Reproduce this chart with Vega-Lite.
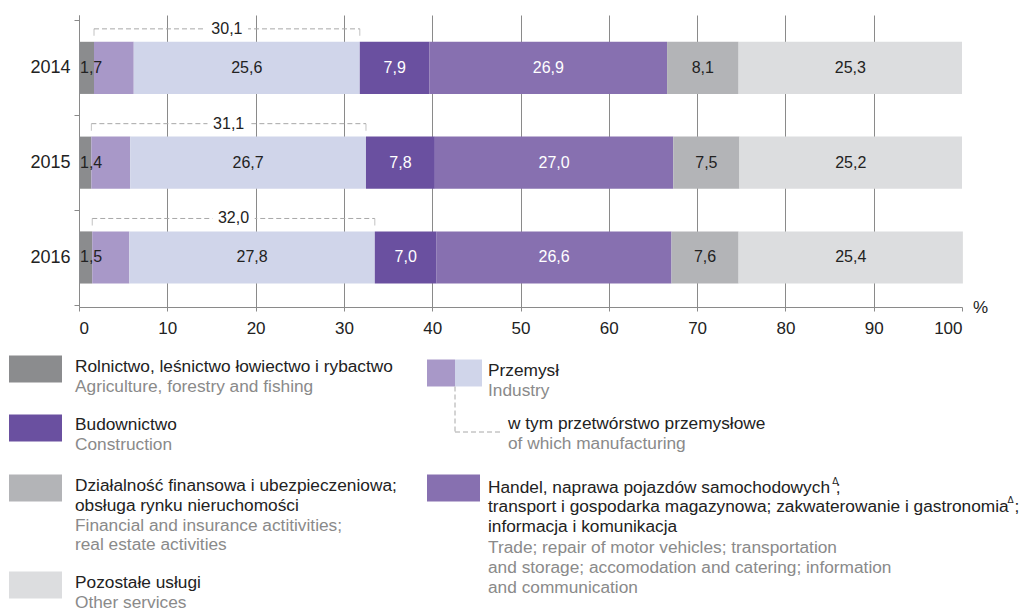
{
  "$schema": "https://vega.github.io/schema/vega-lite/v6.json",
  "padding": {"left": 9, "top": 6, "right": 0, "bottom": 0},
  "background": "white",
  "bounds": "flush",
  "spacing": 50,
  "config": {"view": {"stroke": null}, "font": "Liberation Sans"},
  "datasets": {
    "shares": [
      {"year": "2014", "sector": "agri", "order": 1, "value": 1.7},
      {"year": "2014", "sector": "ind", "order": 2, "value": 4.5},
      {"year": "2014", "sector": "manu", "order": 3, "value": 25.6},
      {"year": "2014", "sector": "constr", "order": 4, "value": 7.9},
      {"year": "2014", "sector": "trade", "order": 5, "value": 26.9},
      {"year": "2014", "sector": "fin", "order": 6, "value": 8.1},
      {"year": "2014", "sector": "other", "order": 7, "value": 25.3},
      {"year": "2015", "sector": "agri", "order": 1, "value": 1.4},
      {"year": "2015", "sector": "ind", "order": 2, "value": 4.4},
      {"year": "2015", "sector": "manu", "order": 3, "value": 26.7},
      {"year": "2015", "sector": "constr", "order": 4, "value": 7.8},
      {"year": "2015", "sector": "trade", "order": 5, "value": 27.0},
      {"year": "2015", "sector": "fin", "order": 6, "value": 7.5},
      {"year": "2015", "sector": "other", "order": 7, "value": 25.2},
      {"year": "2016", "sector": "agri", "order": 1, "value": 1.5},
      {"year": "2016", "sector": "ind", "order": 2, "value": 4.2},
      {"year": "2016", "sector": "manu", "order": 3, "value": 27.8},
      {"year": "2016", "sector": "constr", "order": 4, "value": 7.0},
      {"year": "2016", "sector": "trade", "order": 5, "value": 26.6},
      {"year": "2016", "sector": "fin", "order": 6, "value": 7.6},
      {"year": "2016", "sector": "other", "order": 7, "value": 25.4}
    ],
    "legend": [
      {"kind": "swatch", "part": "full", "col": 0, "line": 0.5, "sector": "agri"},
      {"kind": "swatch", "part": "full", "col": 0, "line": 3.45, "sector": "constr"},
      {"kind": "swatch", "part": "full", "col": 0, "line": 6.45, "sector": "fin"},
      {"kind": "swatch", "part": "full", "col": 0, "line": 11.3, "sector": "other"},
      {"kind": "swatch", "part": "left", "col": 1, "line": 0.7, "sector": "ind"},
      {"kind": "swatch", "part": "right", "col": 1, "line": 0.7, "sector": "manu"},
      {"kind": "swatch", "part": "full", "col": 1, "line": 6.45, "sector": "trade"},
      {"kind": "pl", "group": "main", "col": 0, "line": 0.5, "text": "Rolnictwo, leśnictwo łowiectwo i rybactwo"},
      {"kind": "en", "group": "main", "col": 0, "line": 1.5, "text": "Agriculture, forestry and fishing"},
      {"kind": "pl", "group": "main", "col": 0, "line": 3.4, "text": "Budownictwo"},
      {"kind": "en", "group": "main", "col": 0, "line": 4.4, "text": "Construction"},
      {"kind": "pl", "group": "main", "col": 0, "line": 6.45, "text": "Działalność finansowa i ubezpieczeniowa;"},
      {"kind": "pl", "group": "main", "col": 0, "line": 7.45, "text": "obsługa rynku nieruchomości"},
      {"kind": "en", "group": "main", "col": 0, "line": 8.45, "text": "Financial and insurance actitivities;"},
      {"kind": "en", "group": "main", "col": 0, "line": 9.4, "text": "real estate activities"},
      {"kind": "pl", "group": "main", "col": 0, "line": 11.3, "text": "Pozostałe usługi"},
      {"kind": "en", "group": "main", "col": 0, "line": 12.3, "text": "Other services"},
      {"kind": "pl", "group": "main", "col": 1, "line": 0.7, "text": "Przemysł"},
      {"kind": "en", "group": "main", "col": 1, "line": 1.7, "text": "Industry"},
      {"kind": "pl", "group": "sub", "col": 1, "line": 3.35, "text": "w tym przetwórstwo przemysłowe"},
      {"kind": "en", "group": "sub", "col": 1, "line": 4.35, "text": "of which manufacturing"},
      {"kind": "pl", "group": "main", "col": 1, "line": 6.55, "text": "Handel, naprawa pojazdów samochodowych\u2004;"},
      {"kind": "pl", "group": "main", "col": 1, "line": 7.5, "text": "transport i gospodarka magazynowa; zakwaterowanie i gastronomia\u2004;"},
      {"kind": "pl", "group": "main", "col": 1, "line": 8.5, "text": "informacja i komunikacja"},
      {"kind": "en", "group": "main", "col": 1, "line": 9.55, "text": "Trade; repair of motor vehicles; transportation"},
      {"kind": "en", "group": "main", "col": 1, "line": 10.55, "text": "and storage; accomodation and catering; information"},
      {"kind": "en", "group": "main", "col": 1, "line": 11.55, "text": "and communication"},
      {"kind": "sup", "group": "sup", "col": 1.977, "line": 6.2, "text": "Δ"},
      {"kind": "sup", "group": "sup", "col": 2.396, "line": 7.15, "text": "Δ"}
    ]
  },
  "vconcat": [
    {
      "width": 883,
      "height": 292,
      "data": {"name": "shares"},
      "encoding": {
        "y": {
          "field": "year", "type": "nominal",
          "scale": {"domain": ["2014", "2015", "2016"], "paddingInner": 0, "paddingOuter": 0.04, "align": 0.72},
          "axis": {
            "title": null, "domainColor": "#8a8a8a", "tickColor": "#8a8a8a", "tickSize": 5,
            "tickBand": "extent", "labelFontSize": 18, "labelColor": "#222222", "labelPadding": 4,
            "grid": false, "labelFont": "Liberation Sans"
          }
        }
      },
      "layer": [
        {
          "transform": [
            {"stack": "value", "groupby": ["year"], "sort": [{"field": "order", "order": "ascending"}], "as": ["x0", "x1"]}
          ],
          "mark": {"type": "bar", "height": {"band": 0.55}},
          "encoding": {
            "x": {
              "field": "x0", "type": "quantitative", "title": "%",
              "scale": {"domain": [0, 100], "nice": false},
              "axis": {
                "values": [0, 10, 20, 30, 40, 50, 60, 70, 80, 90, 100],
                "grid": true, "gridColor": "#8a8a8a", "gridWidth": 1,
                "gridOpacity": {"condition": {"test": "datum.value === 100", "value": 0}, "value": 1},
                "domainColor": "#8a8a8a", "tickColor": "#8a8a8a", "tickSize": 4,
                "labelFontSize": 17, "labelColor": "#222222", "labelPadding": 9,
                "title": "%", "titleX": 901, "titleY": 0, "titleFontSize": 17,
                "titleFontWeight": "normal", "titleColor": "#222222", "titleAlign": "center",
                "titleBaseline": "middle", "titleAngle": 0
              }
            },
            "x2": {"field": "x1"},
            "color": {
              "field": "sector", "type": "nominal", "legend": null,
              "scale": {
                "domain": ["agri", "ind", "manu", "constr", "trade", "fin", "other"],
                "range": ["#8b8c8e", "#a898c8", "#d0d5ea", "#6a50a0", "#8770b0", "#b3b4b7", "#dcdddf"]
              }
            }
          }
        },
        {
          "transform": [
            {"stack": "value", "groupby": ["year"], "sort": [{"field": "order", "order": "ascending"}], "as": ["x0", "x1"]},
            {"filter": "datum.sector !== 'agri' && datum.sector !== 'ind'"},
            {"calculate": "(datum.x0 + datum.x1) / 2", "as": "mid"},
            {"calculate": "replace(format(datum.value, '.1f'), '.', ',')", "as": "lab"}
          ],
          "mark": {"type": "text", "fontSize": 16, "baseline": "middle", "align": "center"},
          "encoding": {
            "x": {"field": "mid", "type": "quantitative", "title": "%"},
            "text": {"field": "lab"},
            "color": {"condition": {"test": "datum.sector === 'constr' || datum.sector === 'trade'", "value": "#ffffff"}, "value": "#222222"}
          }
        },
        {
          "transform": [
            {"filter": "datum.sector === 'agri'"},
            {"calculate": "replace(format(datum.value, '.1f'), '.', ',')", "as": "lab"}
          ],
          "mark": {"type": "text", "fontSize": 16, "baseline": "middle", "align": "left", "dx": 1, "color": "#222222"},
          "encoding": {
            "x": {"datum": 0, "type": "quantitative", "title": "%"},
            "text": {"field": "lab"}
          }
        },
        {
          "transform": [
            {"stack": "value", "groupby": ["year"], "sort": [{"field": "order", "order": "ascending"}], "as": ["x0", "x1"]},
            {"filter": "datum.sector === 'ind' || datum.sector === 'manu'"},
            {"aggregate": [{"op": "min", "field": "x0", "as": "start"}, {"op": "max", "field": "x1", "as": "end"}, {"op": "sum", "field": "value", "as": "total"}], "groupby": ["year"]}
          ],
          "mark": {"type": "rule", "yOffset": -39, "strokeDash": [5, 3], "color": "#a8a8a8", "strokeWidth": 1},
          "encoding": {
            "x": {"field": "start", "type": "quantitative", "title": "%"},
            "x2": {"field": "end"}
          }
        },
        {
          "transform": [
            {"stack": "value", "groupby": ["year"], "sort": [{"field": "order", "order": "ascending"}], "as": ["x0", "x1"]},
            {"filter": "datum.sector === 'ind' || datum.sector === 'manu'"},
            {"aggregate": [{"op": "min", "field": "x0", "as": "start"}, {"op": "max", "field": "x1", "as": "end"}], "groupby": ["year"]},
            {"fold": ["start", "end"], "as": ["edge", "pos"]}
          ],
          "mark": {"type": "tick", "orient": "vertical", "size": 7, "thickness": 1, "yOffset": -35.5, "color": "#a8a8a8"},
          "encoding": {
            "x": {"field": "pos", "type": "quantitative", "title": "%"}
          }
        },
        {
          "transform": [
            {"stack": "value", "groupby": ["year"], "sort": [{"field": "order", "order": "ascending"}], "as": ["x0", "x1"]},
            {"filter": "datum.sector === 'ind' || datum.sector === 'manu'"},
            {"aggregate": [{"op": "min", "field": "x0", "as": "start"}, {"op": "max", "field": "x1", "as": "end"}], "groupby": ["year"]},
            {"calculate": "(datum.start + datum.end) / 2 - 2.4", "as": "lo"},
            {"calculate": "(datum.start + datum.end) / 2 + 2.4", "as": "hi"}
          ],
          "mark": {"type": "bar", "height": 14, "yOffset": -39, "color": "#ffffff"},
          "encoding": {
            "x": {"field": "lo", "type": "quantitative", "title": "%"},
            "x2": {"field": "hi"}
          }
        },
        {
          "transform": [
            {"stack": "value", "groupby": ["year"], "sort": [{"field": "order", "order": "ascending"}], "as": ["x0", "x1"]},
            {"filter": "datum.sector === 'ind' || datum.sector === 'manu'"},
            {"aggregate": [{"op": "min", "field": "x0", "as": "start"}, {"op": "max", "field": "x1", "as": "end"}, {"op": "sum", "field": "value", "as": "total"}], "groupby": ["year"]},
            {"calculate": "(datum.start + datum.end) / 2", "as": "mid"},
            {"calculate": "replace(format(datum.total, '.1f'), '.', ',')", "as": "lab"}
          ],
          "mark": {"type": "text", "yOffset": -39, "fontSize": 16, "color": "#222222", "baseline": "middle", "align": "center"},
          "encoding": {
            "x": {"field": "mid", "type": "quantitative", "title": "%"},
            "text": {"field": "lab"}
          }
        }
      ]
    },
    {
      "width": 883,
      "height": 260,
      "data": {"name": "legend"},
      "encoding": {
        "x": {"field": "col", "type": "quantitative", "scale": {"domain": [0, 1], "range": [-70, 348]}, "axis": null},
        "y": {"field": "line", "type": "quantitative", "scale": {"domain": [0, 13], "range": [0, 260]}, "axis": null}
      },
      "layer": [
        {
          "transform": [{"filter": "datum.kind === 'swatch' && datum.part === 'full'"}],
          "mark": {"type": "rect", "x2Offset": 53, "yOffset": -11.5, "y2Offset": 15.5},
          "encoding": {
            "x2": {"field": "col"},
            "y2": {"field": "line"},
            "color": {"field": "sector", "type": "nominal", "legend": null,
              "scale": {
                "domain": ["agri", "ind", "manu", "constr", "trade", "fin", "other"],
                "range": ["#8b8c8e", "#a898c8", "#d0d5ea", "#6a50a0", "#8770b0", "#b3b4b7", "#dcdddf"]
              }}
          }
        },
        {
          "transform": [{"filter": "datum.kind === 'swatch' && datum.part === 'left'"}],
          "mark": {"type": "rect", "x2Offset": 28, "yOffset": -11.5, "y2Offset": 15.5},
          "encoding": {
            "x2": {"field": "col"},
            "y2": {"field": "line"},
            "color": {"field": "sector", "type": "nominal", "legend": null}
          }
        },
        {
          "transform": [{"filter": "datum.kind === 'swatch' && datum.part === 'right'"}],
          "mark": {"type": "rect", "xOffset": 28, "x2Offset": 55, "yOffset": -11.5, "y2Offset": 15.5},
          "encoding": {
            "x2": {"field": "col"},
            "y2": {"field": "line"},
            "color": {"field": "sector", "type": "nominal", "legend": null}
          }
        },
        {
          "transform": [{"filter": "datum.kind === 'swatch' && datum.part === 'left'"}],
          "mark": {"type": "rule", "xOffset": 28, "yOffset": 15.5, "y2Offset": 61, "strokeDash": [5, 3], "color": "#a8a8a8"},
          "encoding": {
            "y2": {"field": "line"}
          }
        },
        {
          "transform": [{"filter": "datum.kind === 'swatch' && datum.part === 'left'"}],
          "mark": {"type": "rule", "xOffset": 28, "x2Offset": 76, "yOffset": 61, "strokeDash": [5, 3], "color": "#a8a8a8"},
          "encoding": {
            "x2": {"field": "col"}
          }
        },
        {
          "transform": [{"filter": "(datum.kind === 'pl' || datum.kind === 'en') && datum.col === 0"}],
          "mark": {"type": "text", "align": "left", "baseline": "middle", "dx": 66, "fontSize": 17.3},
          "encoding": {
            "text": {"field": "text"},
            "color": {"condition": {"test": "datum.kind === 'en'", "value": "#8a8a8a"}, "value": "#222222"}
          }
        },
        {
          "transform": [{"filter": "(datum.kind === 'pl' || datum.kind === 'en') && datum.col === 1 && datum.group === 'main'"}],
          "mark": {"type": "text", "align": "left", "baseline": "middle", "dx": 61, "fontSize": 17.3},
          "encoding": {
            "text": {"field": "text"},
            "color": {"condition": {"test": "datum.kind === 'en'", "value": "#8a8a8a"}, "value": "#222222"}
          }
        },
        {
          "transform": [{"filter": "datum.group === 'sub'"}],
          "mark": {"type": "text", "align": "left", "baseline": "middle", "dx": 81, "fontSize": 17.3},
          "encoding": {
            "text": {"field": "text"},
            "color": {"condition": {"test": "datum.kind === 'en'", "value": "#8a8a8a"}, "value": "#222222"}
          }
        },
        {
          "transform": [{"filter": "datum.kind === 'sup'"}],
          "mark": {"type": "text", "align": "center", "baseline": "middle", "fontSize": 9, "color": "#222222", "font": "DejaVu Sans"},
          "encoding": {
            "text": {"field": "text"}
          }
        }
      ]
    }
  ]
}
